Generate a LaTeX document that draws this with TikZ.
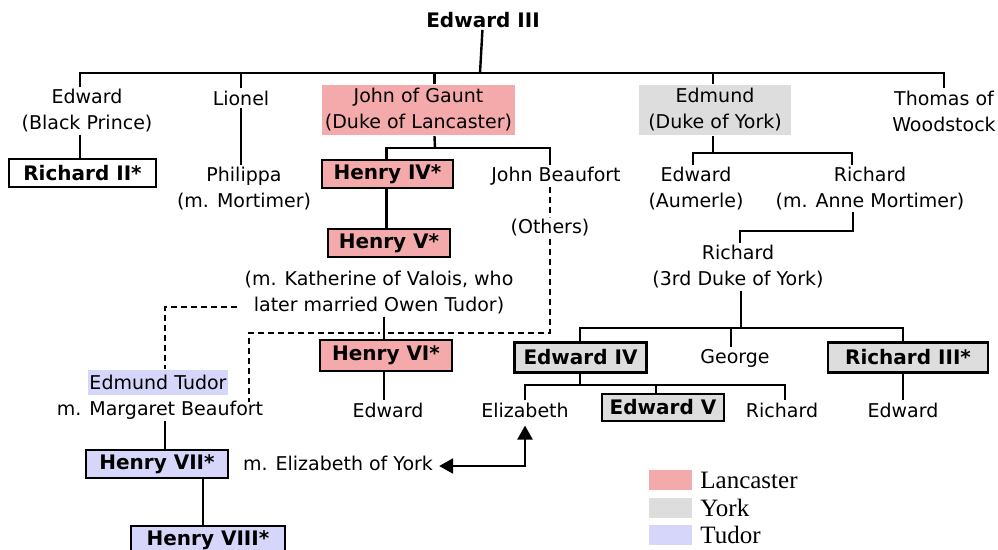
\documentclass[tikz,border=0pt]{standalone}
\usepackage{fontspec}
\setmainfont{DejaVu Sans}
\newfontfamily\legendfont{Liberation Serif}
\usetikzlibrary{arrows.meta}
\definecolor{lancaster}{RGB}{244,170,170}
\definecolor{york}{RGB}{221,221,221}
\definecolor{tudor}{RGB}{214,214,250}
\begin{document}
\begin{tikzpicture}[x=1pt, y=-1pt, line width=2.4pt,
	person/.style={align=center, inner sep=1pt, font=\fontsize{19}{26}\selectfont},
	monarch/.style={draw, line width=2.4pt, inner sep=0pt, minimum height=28pt, font=\fontsize{20}{24}\selectfont\bfseries},
	house/.style={align=center, inner sep=0pt, font=\fontsize{19}{26}\selectfont},
	descent/.style={dash pattern=on 6pt off 4pt},
	swatch/.style={inner sep=0pt, minimum width=43pt, minimum height=20pt},
	legendtext/.style={anchor=west, inner sep=0pt, font=\fontsize{25}{28}\legendfont}]
	\useasboundingbox (0,0) rectangle (998,549);
	
	% generation of Edward III
	\node[person, font=\fontsize{20}{24}\selectfont\bfseries] (edw3) at (483,20) {Edward III};
	\node[person] (bp) at (87,111) {Edward\\(Black Prince)};
	\node[person] (lionel) at (241,98) {Lionel};
	\node[house, fill=lancaster, minimum width=193pt, minimum height=50pt] (gaunt) at (418.5,110) {John of Gaunt\\(Duke of Lancaster)};
	\node[house, fill=york, minimum width=152pt, minimum height=50pt] (edmund) at (715,110) {Edmund\\(Duke of York)};
	\node[person] (thomas) at (944,111) {Thomas of\\Woodstock};
	
	\coordinate (kids) at (480,73);
	\draw (edw3) -- (kids);
	\draw ([xshift=-7pt]bp.north) |- (kids) -| (thomas.north);
	\draw (lionel.north) -- (lionel.north |- kids);
	\draw ([xshift=16pt]gaunt.north) -- ([xshift=16pt]gaunt.north |- kids);
	\draw ([xshift=-2pt]edmund.north) -- ([xshift=-2pt]edmund.north |- kids);
	
	% next generation
	\node[monarch, fill=white, minimum width=147pt] (rich2) at (82.5,173) {Richard II*};
	\node[person] (philippa) at (244,188.5) {Philippa\\(m. Mortimer)};
	\node[monarch, fill=lancaster, minimum width=131pt] (henry4) at (387.5,174) {Henry IV*};
	\node[person] (beaufort) at (556,176) {John Beaufort};
	\node[person] (others) at (550,228) {(Others)};
	\node[person] (aumerle) at (696,188.5) {Edward\\(Aumerle)};
	\node[person] (richmort) at (870,188.5) {Richard\\(m. Anne Mortimer)};
	
	\draw ([xshift=-7pt]bp.south) -- ([xshift=-7pt]bp.south |- rich2.north);
	\draw (lionel.south) -- (lionel.south |- philippa.north);
	\coordinate (gkids) at (435,148);
	\draw ([xshift=16pt]gaunt.south) -- (gkids);
	\draw ([xshift=-1pt]henry4.north) |- (gkids) -| ([xshift=-6pt]beaufort.north);
	\draw[descent] ([xshift=-6pt]beaufort.south) -- (others.north);
	\coordinate (ykids) at (713,153);
	\draw ([xshift=-2pt]edmund.south) -- (ykids);
	\draw ([xshift=-3pt]aumerle.north) |- (ykids) -| ([xshift=-18pt]richmort.north);
	
	% Lancaster line
	\node[monarch, fill=lancaster, minimum width=122pt] (henry5) at (389,243) {Henry V*};
	\node[person] (katherine) at (379,293) {(m. Katherine of Valois, who\\later married Owen Tudor)};
	\node[monarch, fill=lancaster, minimum width=132pt, minimum height=31pt] (henry6) at (386,355.5) {Henry VI*};
	\node[person] (edw6son) at (388,410) {Edward};
	
	\draw ([xshift=-1pt]henry4.south) -- ([xshift=-1pt]henry4.south |- henry5.north);
	\coordinate (dashbar) at (249,333);
	\draw[descent] (others.south) |- (dashbar) -- (249,402);
	\draw[white, line width=8pt] (384,327) -- (384,339);
	\draw ([xshift=5pt]katherine.south) -- ([xshift=5pt]katherine.south |- henry6.north);
	\draw ([xshift=-2pt]henry6.south) -- ([xshift=-2pt]henry6.south |- edw6son.north);
	
	% Tudor line
	\node[house, fill=tudor, minimum width=140pt, minimum height=25pt] (etudor) at (158,382.5) {Edmund Tudor};
	\node[person] (margaret) at (160,410) {m. Margaret Beaufort};
	\node[monarch, fill=tudor, minimum width=142pt] (henry7) at (157,464) {Henry VII*};
	\node[person] (mey) at (338,463) {m. Elizabeth of York};
	\node[monarch, fill=tudor, minimum width=154pt] (henry8) at (208,540) {Henry VIII*};
	
	\draw[descent] ([xshift=-5pt,yshift=-14pt]katherine.west) -| ([xshift=7pt]etudor.north);
	\draw ([xshift=5pt]margaret.south) -- ([xshift=5pt]margaret.south |- henry7.north);
	\draw ([xshift=46pt]henry7.south) -- ([xshift=46pt]henry7.south |- henry8.north);
	
	% York line
	\node[person] (york3) at (738,267) {Richard\\(3rd Duke of York)};
	\node[monarch, fill=york, minimum width=132pt, minimum height=30pt] (edward4) at (580.5,357.5) {Edward IV};
	\node[person] (george) at (735,358) {George};
	\node[monarch, fill=york, minimum width=160pt, minimum height=30pt] (rich3) at (908,357.5) {Richard III*};
	\node[person] (elizabeth) at (525,410) {Elizabeth};
	\node[monarch, fill=york, minimum width=122pt, minimum height=27pt] (edward5) at (663,407.5) {Edward V};
	\node[person] (richyork) at (782,410) {Richard};
	\node[person] (edw3son) at (903,410) {Edward};
	
	\draw ([xshift=-17pt]richmort.south) -- ++(0,19) -| ([xshift=2pt]york3.north);
	\coordinate (rkids) at (741,328);
	\draw ([xshift=3pt]york3.south) -- (rkids);
	\draw ([xshift=-0.5pt]edward4.north) |- (rkids) -| ([xshift=-5pt]rich3.north);
	\draw ([xshift=-4pt]george.north) |- (rkids);
	\coordinate (ekids) at (580,385);
	\draw ([xshift=-0.5pt]edward4.south) -- (ekids);
	\draw (elizabeth.north) |- (ekids) -| ([xshift=3pt]richyork.north);
	\draw ([xshift=-7pt]edward5.north) |- (ekids);
	\draw ([xshift=-5pt]rich3.south) -- (edw3son.north);
	\draw[{Triangle[length=14pt,width=15pt]}-{Triangle[length=14pt,width=15pt]}] ([xshift=4pt,yshift=-3pt]mey.east) -| ([yshift=-6pt]elizabeth.south);
	
	% legend
	\node[swatch, fill=lancaster] (lanc) at (670.5,480) {};
	\node[swatch, fill=york] (yrk) at (670.5,507.5) {};
	\node[swatch, fill=tudor] (tdr) at (670.5,534.5) {};
	\node[legendtext] (lanctext) at ([xshift=6pt]lanc.east) {Lancaster};
	\node[legendtext] (yrktext) at ([xshift=6pt]yrk.east) {York};
	\node[legendtext] (tdrtext) at ([xshift=6pt]tdr.east) {Tudor};
\end{tikzpicture}
\end{document}
